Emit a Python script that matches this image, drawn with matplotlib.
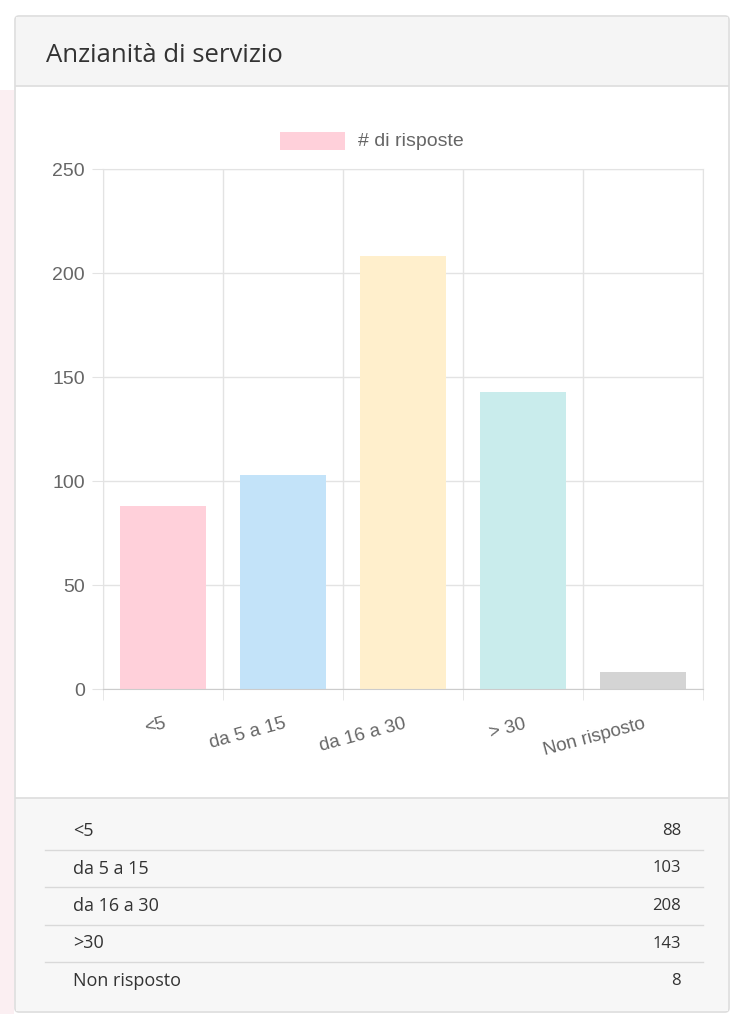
import matplotlib.pyplot as plt
from matplotlib.patches import Rectangle, FancyBboxPatch
from matplotlib.transforms import ScaledTranslation
import numpy as np

# dati
categorie = ['<5', 'da 5 a 15', 'da 16 a 30', '>30', 'Non risposto']
etichette_asse = ['<5', 'da 5 a 15', 'da 16 a 30', '> 30', 'Non risposto']
risposte = [88, 103, 208, 143, 8]
colori = ['#ffd0da', '#c3e3f9', '#ffefcc', '#c9ecec', '#d4d4d4']
yticks = [0, 50, 100, 150, 200, 250]

W, H = 733, 1014
fig = plt.figure(figsize=(W / 100, H / 100), dpi=100)
fig.patch.set_facecolor('white')

# sfondo in pixel
bg = fig.add_axes([0, 0, 1, 1], zorder=0)
bg.set_xlim(0, W)
bg.set_ylim(H, 0)
bg.axis('off')
bg.add_patch(Rectangle((0, 90), 14, H - 90, color='#fbeff2', lw=0))
# card
bg.add_patch(FancyBboxPatch((15, 16), 714, 996, boxstyle='round,pad=0,rounding_size=4',
                            fc='white', ec='#dddddd', lw=1.2))
bg.add_patch(Rectangle((16, 17), 712, 69, color='#f5f5f5', lw=0))
bg.plot([16, 728], [86, 86], color='#dddddd', lw=1.2)
bg.add_patch(Rectangle((16, 798), 712, 213, color='#f7f7f7', lw=0))
bg.plot([16, 728], [798, 798], color='#dddddd', lw=1.2)
bg.text(46, 55, 'Anzianità di servizio', fontsize=18.5, color='#333333',
        family='Open Sans', va='center', ha='left')

# tabella in basso
riga0 = 831
passo = 37.5
for i, (c, v) in enumerate(zip(categorie, risposte)):
    y = riga0 + i * passo
    bg.text(73, y, c, fontsize=13, color='#333333', family='Open Sans', va='center')
    bg.text(681, y, str(v), fontsize=12, color='#333333', family='Open Sans',
            va='center', ha='right')
    if i < len(categorie) - 1:
        bg.plot([45, 703], [y + 18.5, y + 18.5], color='#d9d9d9', lw=1)

# grafico
ax = fig.add_axes([103 / W, (H - 689) / H, 600 / W, 520 / H], zorder=2)
ax.patch.set_alpha(0)
x = np.arange(len(categorie))
ax.bar(x, risposte, width=0.72, color=colori, zorder=2)
ax.set_xlim(-0.5, len(categorie) - 0.5)
ax.set_ylim(0, 250)
ax.set_yticks(yticks)
ax.set_xticks(x)
ax.set_xticklabels(etichette_asse, rotation=15, ha='right', rotation_mode='anchor',
                   family='Liberation Sans', fontsize=13.5, color='#666666')
sposta = ScaledTranslation(4 / 100, 0, fig.dpi_scale_trans)
for lab in ax.get_xticklabels():
    lab.set_transform(lab.get_transform() + sposta)
ax.set_xticks(np.arange(-0.5, len(categorie)), minor=True)
for lab in ax.get_yticklabels():
    lab.set_family('Liberation Sans')
ax.tick_params(axis='y', length=8, color='#e3e3e3', labelsize=14,
               labelcolor='#666666', pad=5)
ax.tick_params(axis='x', which='major', length=0, pad=19)
ax.tick_params(axis='x', which='minor', length=8, color='#e3e3e3')
ax.grid(axis='y', color='#e3e3e3', lw=1, zorder=0)
ax.grid(axis='x', which='minor', color='#e3e3e3', lw=1, zorder=0)
for s in ['top', 'right', 'left']:
    ax.spines[s].set_color('#e3e3e3')
ax.spines['bottom'].set_color('#cccccc')

# legenda
bg.add_patch(Rectangle((280, 132), 65, 18, color='#ffd0da', lw=0))
bg.text(358, 141, '# di risposte', fontsize=14, color='#666666',
        family='Liberation Sans', va='center')

fig.savefig('out.png', dpi=100)
